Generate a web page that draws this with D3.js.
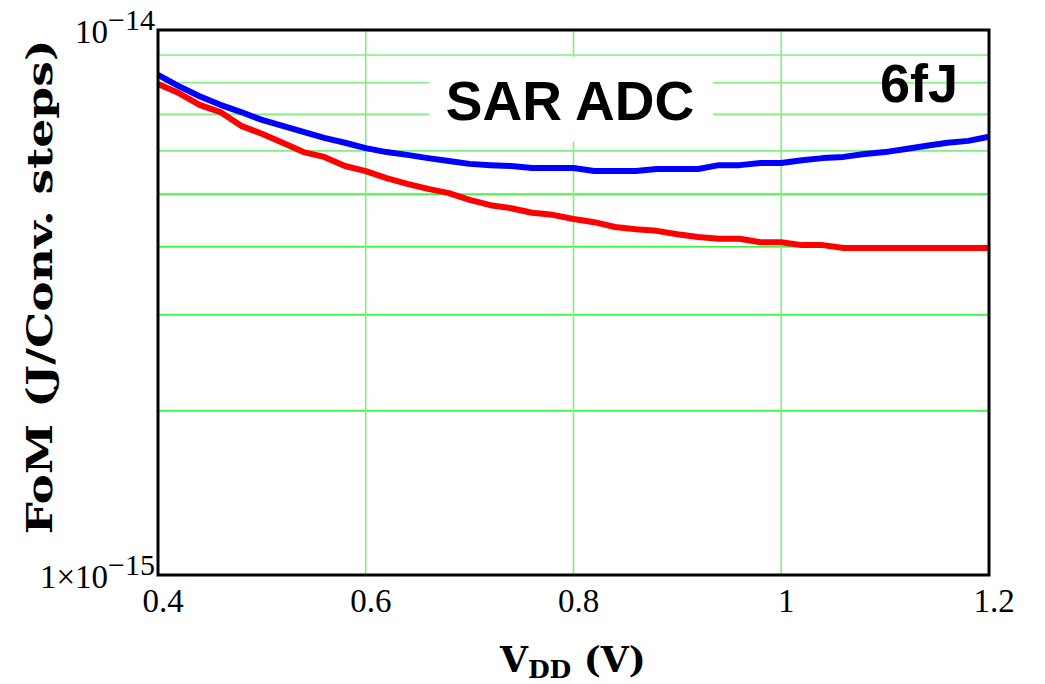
<!DOCTYPE html>
<html>
<head>
<meta charset="utf-8">
<script src="https://cdn.jsdelivr.net/npm/d3@7"></script>
<style>
  body { margin: 0; background: #fff; }
</style>
</head>
<body>
<script>
// supply voltage (V)
var vdd = [0.40, 0.42, 0.44, 0.46, 0.48, 0.50, 0.52, 0.54, 0.56, 0.58,
           0.60, 0.62, 0.64, 0.66, 0.68, 0.70, 0.72, 0.74, 0.76, 0.78,
           0.80, 0.82, 0.84, 0.86, 0.88, 0.90, 0.92, 0.94, 0.96, 0.98,
           1.00, 1.02, 1.04, 1.06, 1.08, 1.10, 1.12, 1.14, 1.16, 1.18, 1.20];

// FoM in fJ / conv. step (x 1e-15)
var fomBlue = [8.27, 7.89, 7.56, 7.29, 7.07, 6.84, 6.67, 6.50, 6.34, 6.21,
               6.07, 5.97, 5.90, 5.82, 5.75, 5.68, 5.65, 5.63, 5.58, 5.58,
               5.58, 5.51, 5.51, 5.51, 5.56, 5.56, 5.56, 5.65, 5.65, 5.70,
               5.70, 5.77, 5.82, 5.85, 5.92, 5.97, 6.05, 6.13, 6.21, 6.26, 6.37];

var fomRed = [7.96, 7.66, 7.29, 7.07, 6.67, 6.45, 6.21, 5.97, 5.85, 5.63,
              5.51, 5.35, 5.22, 5.11, 5.02, 4.88, 4.77, 4.71, 4.62, 4.58,
              4.50, 4.44, 4.35, 4.31, 4.28, 4.22, 4.17, 4.14, 4.14, 4.08,
              4.08, 4.03, 4.03, 3.98, 3.98, 3.98, 3.98, 3.98, 3.98, 3.98, 3.98];

var xTicks = [0.4, 0.6, 0.8, 1, 1.2];
var xTickLabels = ["0.4", "0.6", "0.8", "1", "1.2"];
var yGrid = [2, 3, 4, 5, 6, 7, 8, 9];

var svg = d3.select("body")
    .append("svg")
    .attr("width", 1045)
    .attr("height", 684)
    .style("background-color", "white");

var pLeft = 158, pRight = 989, pTop = 30, pBottom = 575;

var x = d3.scaleLinear().domain([0.4, 1.2]).range([pLeft, pRight]);
var y = d3.scaleLog().domain([1, 10]).range([pBottom, pTop]);

// grid
svg.selectAll(".hgrid")
    .data(yGrid)
    .enter().append("line")
    .attr("x1", pLeft).attr("x2", pRight)
    .attr("y1", function (d) { return y(d); })
    .attr("y2", function (d) { return y(d); })
    .attr("stroke", function (d) { return d >= 6 ? "#80ee80" : "#00ee00"; })
    .attr("stroke-width", function (d) { return d >= 6 ? 1.6 : 1.2; });

svg.selectAll(".vgrid")
    .data([0.6, 0.8, 1.0])
    .enter().append("line")
    .attr("y1", pTop).attr("y2", pBottom)
    .attr("x1", function (d) { return x(d); })
    .attr("x2", function (d) { return x(d); })
    .attr("stroke", "#80ee80")
    .attr("stroke-width", 1.6);

// label box covers the grid
svg.append("rect")
    .attr("x", 429).attr("y", 57)
    .attr("width", 284).attr("height", 85)
    .attr("fill", "white");

svg.append("text")
    .attr("x", 570).attr("y", 120)
    .attr("text-anchor", "middle")
    .style("font-family", "Liberation Sans, Arial, sans-serif")
    .style("font-weight", "bold")
    .style("font-size", "55px")
    .text("SAR ADC");

svg.append("text")
    .attr("x", 958).attr("y", 102)
    .attr("text-anchor", "end")
    .style("font-family", "Liberation Sans, Arial, sans-serif")
    .style("font-weight", "bold")
    .style("font-size", "54px")
    .text("6fJ");

// curves
var line = d3.line()
    .x(function (d) { return x(d[0]); })
    .y(function (d) { return y(d[1]); });

svg.append("path")
    .attr("d", line(d3.zip(vdd, fomRed)))
    .attr("fill", "none")
    .attr("stroke", "#ff0000")
    .attr("stroke-width", 6)
    .attr("stroke-linejoin", "round");

svg.append("path")
    .attr("d", line(d3.zip(vdd, fomBlue)))
    .attr("fill", "none")
    .attr("stroke", "#0000ff")
    .attr("stroke-width", 6)
    .attr("stroke-linejoin", "round");

// frame
svg.append("rect")
    .attr("x", pLeft).attr("y", pTop)
    .attr("width", pRight - pLeft).attr("height", pBottom - pTop)
    .attr("fill", "none")
    .attr("stroke", "black")
    .attr("stroke-width", 3);

// x tick labels
svg.selectAll(".xlab")
    .data(xTicks)
    .enter().append("text")
    .attr("x", function (d) { return x(d) + 5; })
    .attr("y", 612)
    .attr("text-anchor", "middle")
    .style("font-family", "Liberation Serif, Times New Roman, serif")
    .style("font-size", "33px")
    .text(function (d, i) { return xTickLabels[i]; });

// y tick labels
var yTopLab = svg.append("text")
    .attr("x", 155).attr("y", y(10) + 13)
    .attr("text-anchor", "end")
    .style("font-family", "Liberation Serif, Times New Roman, serif")
    .style("font-size", "33px");
yTopLab.append("tspan").text("10");
yTopLab.append("tspan").attr("dy", -13).style("font-size", "30px").text("\u221214");

var yBotLab = svg.append("text")
    .attr("x", 155).attr("y", y(1) + 13)
    .attr("text-anchor", "end")
    .style("font-family", "Liberation Serif, Times New Roman, serif")
    .style("font-size", "33px");
yBotLab.append("tspan").text("1\u00d710");
yBotLab.append("tspan").attr("dy", -13).style("font-size", "30px").text("\u221215");

// axis titles
svg.append("text")
    .attr("transform", "translate(52,287) rotate(-90)")
    .attr("text-anchor", "middle")
    .attr("textLength", 495)
    .attr("lengthAdjust", "spacingAndGlyphs")
    .style("font-family", "DejaVu Serif, serif")
    .style("font-weight", "bold")
    .style("font-size", "36px")
    .text("FoM (J/Conv. steps)");

var xt = svg.append("text")
    .attr("x", 500).attr("y", 672)
    .style("font-family", "DejaVu Serif, serif")
    .style("font-weight", "bold")
    .style("font-size", "36px");
xt.append("tspan").text("V");
xt.append("tspan").attr("dy", 6).style("font-size", "25px").text("DD");
xt.append("tspan").attr("dy", -6).text(" (V)");
</script>
</body>
</html>
